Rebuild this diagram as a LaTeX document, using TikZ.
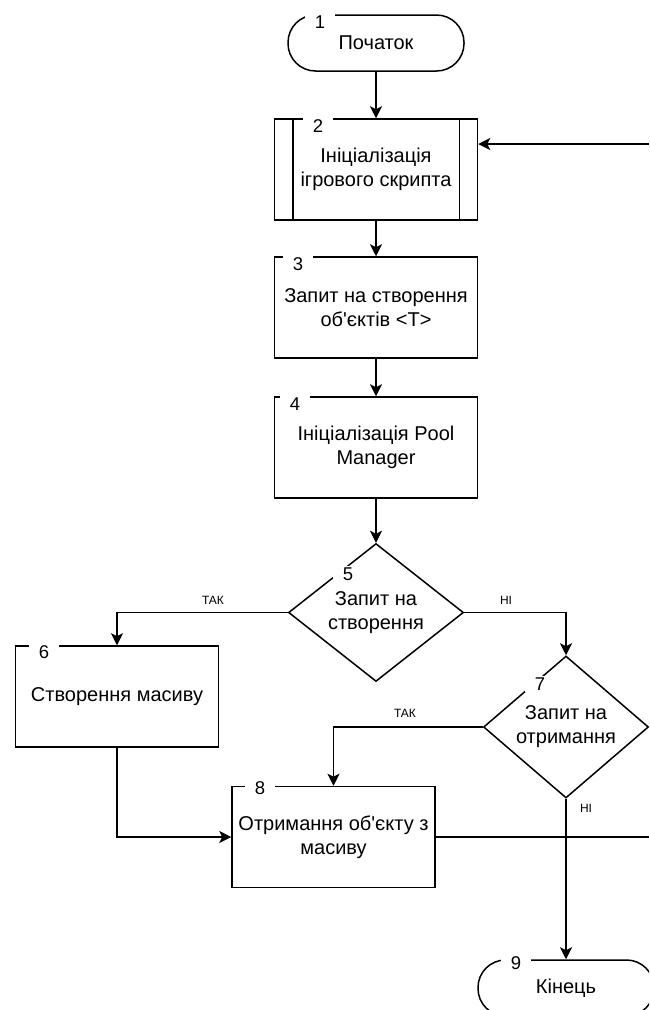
\documentclass[tikz,border=0pt]{standalone}
\usepackage{fontspec}
\setmainfont{Liberation Sans}[Ligatures=TeXOff]
\usetikzlibrary{shapes.geometric,arrows.meta}
\begin{document}
\begin{tikzpicture}[x=1pt,y=-1pt,
  base/.style={draw, line width=1.5pt, inner sep=0pt, align=center, font=\fontsize{20}{24}\selectfont},
  proc/.style={base, rectangle, minimum width=203pt, minimum height=101pt},
  term/.style={base, rectangle, rounded corners=27.5pt, minimum width=176pt, minimum height=56pt},
  dec/.style={base, diamond, minimum width=175pt, minimum height=135pt},
  num/.style={fill=white, inner sep=0pt, minimum width=30pt, minimum height=16pt, font=\fontsize{18.5}{18.5}\selectfont},
  lbl/.style={inner sep=0pt, font=\fontsize{12}{12}\selectfont},
  wire/.style={line width=1.5pt},
  conn/.style={wire, -{Stealth[length=12pt,width=12pt,inset=3pt]}}
]
\useasboundingbox (0,0) rectangle (649,1010);
\clip (0,0) rectangle (649,1010);

% nodes
\node[term] (n1) at (376,43) {Початок};
\node[proc] (n2) at (376,169.5) {Ініціалізація\\ігрового скрипта};
\draw[wire] ([xshift=19pt]n2.north west) -- ([xshift=19pt]n2.south west);
\draw[wire] ([xshift=-19pt]n2.north east) -- ([xshift=-19pt]n2.south east);
\node[proc] (n3) at (376,307.5) {Запит на створення\\об'єктів <T>};
\node[proc] (n4) at (376,447.5) {Ініціалізація Pool\\Manager};
\node[dec] (n5) at (376,612.5) {Запит на\\створення};
\node[proc] (n6) at (117,696.5) {Створення масиву};
\node[dec, minimum width=165pt, minimum height=134pt] (n7) at (566,727) {Запит на\\отримання};
\node[proc] (n8) at (333.5,837) {Отримання об'єкту з\\масиву};
\node[term] (n9) at (566,988) {Кінець};

% connectors
\coordinate (r1) at (649,144);
\coordinate (r2) at (649,837);
\draw[conn] (n1.south) -- (n2.north);
\draw[conn] (r1) -- (r1 -| n2.east);
\draw[conn] (n2.south) -- (n3.north);
\draw[conn] (n3.south) -- (n4.north);
\draw[conn] (n4.south) -- (n5.north);
\draw[conn] (n5.west) -| (n6.north);
\draw[conn] (n5.east) -| (n7.north);
\draw[conn] (n7.west) -| (n8.north);
\draw[conn] (n6.south) |- (n8.west);
\draw[wire] (n8.east) -- (r2);
\draw[conn] (n7.south) -- (n9.north);

% numbers
\node[num] (k1) at (320,22) {1};
\node[num] (k2) at (318,126) {2};
\node[num] (k3) at (298,264) {3};
\node[num] (k4) at (295,404) {4};
\node[num] (k5) at (348,574) {5};
\node[num] (k6) at (44,652) {6};
\node[num] (k7) at (540,684) {7};
\node[num] (k8) at (260,788) {8};
\node[num] (k9) at (516,963) {9};

% branch labels
\node[lbl] (t1) at (213,600) {ТАК};
\node[lbl] (f1) at (506,600) {НІ};
\node[lbl] (t2) at (405,713) {ТАК};
\node[lbl] (f2) at (586,808) {НІ};
\end{tikzpicture}
\end{document}
